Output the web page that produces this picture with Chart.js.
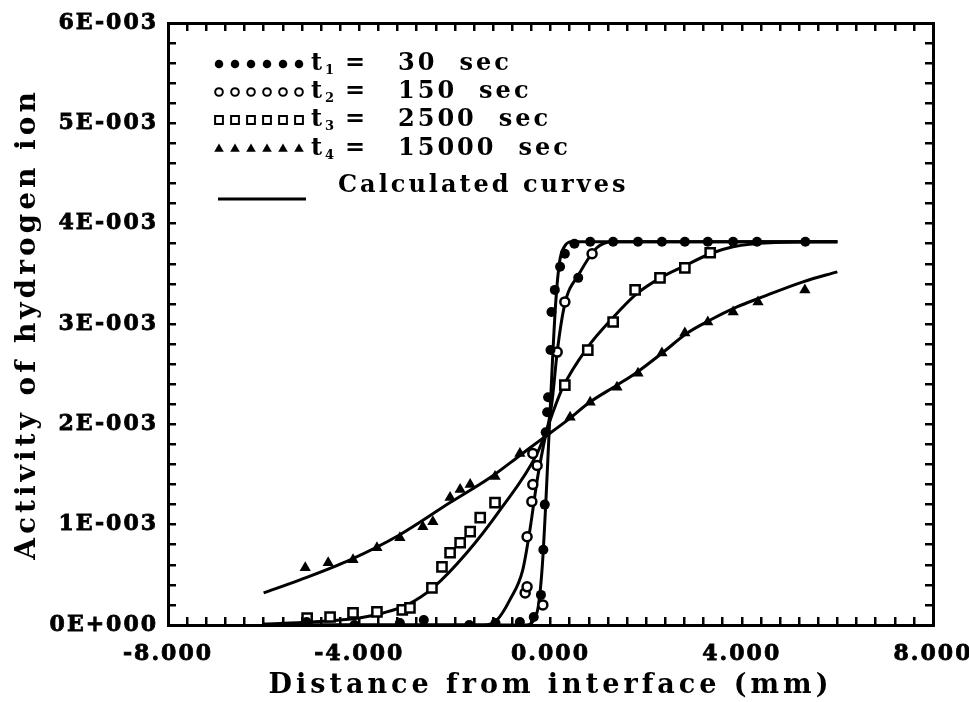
<!DOCTYPE html>
<html>
<head>
<meta charset="utf-8">
<title>Activity of hydrogen ion</title>
<script src="https://cdn.jsdelivr.net/npm/chart.js@4.4.0/dist/chart.umd.min.js"></script>
<style>
  html, body { margin: 0; padding: 0; background: #fff; }
  canvas { display: block; }
</style>
</head>
<body>
<canvas id="profileChart" width="969" height="702"></canvas>
<script>
// Activity values are given in units of 1E-003, distance in mm

// t1 = 30 sec (filled circles)
const t1X = [-5.1, -4.1, -3.15, -2.65, -1.7, -1.15, -0.64, -0.35, -0.2, -0.15, -0.12, -0.1, -0.07, -0.05, 0.0, 0.02, 0.09, 0.2, 0.3, 0.58, 0.5, 0.83, 1.31, 1.83, 2.33, 2.81, 3.29, 3.82, 4.32, 5.33];
const t1Y = [0.03, 0.0, 0.02, 0.05, 0.0, 0.02, 0.03, 0.08, 0.3, 0.75, 1.2, 1.92, 2.12, 2.27, 2.74, 3.12, 3.34, 3.57, 3.7, 3.46, 3.8, 3.82, 3.82, 3.82, 3.82, 3.82, 3.82, 3.82, 3.82, 3.82];

// t2 = 150 sec (open circles)
const t2X = [-0.53, -0.49, -0.49, -0.39, -0.37, -0.28, -0.37, -0.16, 0.14, 0.3, 0.87];
const t2Y = [0.32, 0.38, 0.88, 1.23, 1.4, 1.59, 1.71, 0.2, 2.72, 3.22, 3.7];

// t3 = 2500 sec (open squares)
const t3X = [-5.09, -4.61, -4.13, -3.63, -3.1, -2.94, -2.48, -2.27, -2.1, -1.89, -1.68, -1.47, -1.16, 0.3, 0.78, 1.31, 1.77, 2.29, 2.81, 3.34];
const t3Y = [0.07, 0.08, 0.12, 0.13, 0.15, 0.17, 0.37, 0.58, 0.72, 0.82, 0.93, 1.07, 1.22, 2.39, 2.74, 3.02, 3.34, 3.46, 3.56, 3.71];

// t4 = 15000 sec (filled triangles)
const t4X = [-5.13, -4.65, -4.13, -3.63, -3.15, -2.67, -2.46, -2.1, -1.89, -1.68, -1.16, -0.64, 0.41, 0.83, 1.39, 1.83, 2.33, 2.81, 3.29, 3.82, 4.34, 5.32];
const t4Y = [0.57, 0.62, 0.65, 0.77, 0.87, 0.98, 1.03, 1.27, 1.35, 1.4, 1.48, 1.71, 2.07, 2.22, 2.37, 2.51, 2.71, 2.91, 3.02, 3.12, 3.22, 3.34];

// calculated curves
const calc1X = [-6, -0.5, -0.35, -0.25, -0.17, -0.1, -0.03, 0.04, 0.11, 0.19, 0.29, 0.45, 6];
const calc1Y = [0, 0, 0.05, 0.2, 0.6, 1.2, 1.91, 2.62, 3.22, 3.62, 3.77, 3.82, 3.82];
const calc2X = [-6, -1.4, -1.12, -0.85, -0.58, -0.43, -0.28, -0.15, 0.0, 0.05, 0.14, 0.3, 0.6, 0.97, 1.3, 6];
const calc2Y = [0, 0, 0.05, 0.25, 0.55, 0.95, 1.44, 1.78, 2.12, 2.3, 2.72, 3.2, 3.5, 3.76, 3.82, 3.82];
const calc3X = [-6, -5, -4, -3.5, -3, -2.46, -1.75, -1.05, -0.28, 0.26, 0.78, 1.3, 1.8, 2.3, 2.81, 3.34, 3.82, 4.6, 6];
const calc3Y = [0.01, 0.03, 0.07, 0.12, 0.2, 0.37, 0.72, 1.15, 1.71, 2.37, 2.77, 3.06, 3.3, 3.46, 3.58, 3.7, 3.77, 3.81, 3.82];
const calc4X = [-6, -5.24, -4.19, -3.15, -2.1, -1.26, -0.64, -0.22, 0.35, 0.82, 1.39, 1.81, 2.36, 2.86, 3.34, 3.9, 4.38, 5.28, 6];
const calc4Y = [0.32, 0.45, 0.65, 0.9, 1.22, 1.47, 1.69, 1.84, 2.04, 2.22, 2.39, 2.52, 2.72, 2.91, 3.04, 3.17, 3.26, 3.42, 3.52];

// labelled ticks; minor ticks sit every 0.4 mm and every 0.2E-003
const xTickLabels = ['-8.000', '-4.000', '0.000', '4.000', '8.000'];
const yTickLabels = ['0E+000', '1E-003', '2E-003', '3E-003', '4E-003', '5E-003', '6E-003'];

const legendSubs = ['1', '2', '3', '4'];
const legendNumbers = ['30', '150', '2500', '15000'];
const legendUnit = 'sec';
const legendCurveLabel = 'Calculated curves';

const FONT = '"DejaVu Serif", serif';

function toPoints(xs, ys) {
    return xs.map((x, i) => ({ x: x, y: ys[i] }));
}

// marker looks, shared by the plot and the legend
const markers = [
    { pointStyle: 'circle', radius: 5, fill: '#000', borderWidth: 0 },
    { pointStyle: 'circle', radius: 4.5, fill: '#fff', borderWidth: 2.5 },
    { pointStyle: 'rect', radius: 6.5, fill: '#fff', borderWidth: 2.5 },
    { pointStyle: 'triangle', radius: 6.5, fill: '#000', borderWidth: 0 }
];

function markerSet(label, xs, ys, m) {
    return {
        label: label,
        data: toPoints(xs, ys),
        showLine: false,
        pointStyle: m.pointStyle,
        pointRadius: m.radius,
        pointBackgroundColor: m.fill,
        pointBorderColor: '#000',
        pointBorderWidth: m.borderWidth
    };
}

function curveSet(xs, ys) {
    return {
        label: 'calc',
        data: toPoints(xs, ys),
        showLine: true,
        borderColor: '#000',
        borderWidth: 3,
        pointRadius: 0,
        cubicInterpolationMode: 'monotone'
    };
}

// inward tick marks and a heavy axis line
const inwardGrid = { display: true, drawOnChartArea: false, drawTicks: true, tickLength: -8, color: '#000', lineWidth: 2.5 };
const heavyBorder = { display: true, color: '#000', width: 3 };

// legend block in the upper left corner
function drawLegend(chart) {
    const c = chart.ctx;
    c.save();
    c.textBaseline = 'middle';
    c.letterSpacing = '3px';
    const rowY = [64, 92, 120, 149];
    markers.forEach((m, r) => {
        const yy = rowY[r];
        c.fillStyle = m.fill;
        c.strokeStyle = '#000';
        c.lineWidth = 2;
        for (let k = 0; k < 6; k++) {
            Chart.helpers.drawPoint(c, {
                pointStyle: m.pointStyle,
                radius: m.radius * 0.85,
                rotation: 0,
                borderWidth: m.borderWidth ? 2 : 0
            }, 219 + k * 16, yy);
        }
        c.fillStyle = '#000';
        c.font = 'bold 24px ' + FONT;
        c.fillText('t', 311, yy);
        c.font = 'bold 13px ' + FONT;
        c.fillText(legendSubs[r], 325, yy + 7);
        c.font = 'bold 24px ' + FONT;
        c.fillText('=', 345, yy);
        c.fillText(legendNumbers[r], 398, yy);
        const numEnd = 398 + c.measureText(legendNumbers[r]).width;
        c.fillText(legendUnit, numEnd + 22, yy);
    });
    c.fillStyle = '#000';
    c.fillRect(218, 197.5, 88, 3);
    c.font = 'bold 24px ' + FONT;
    c.fillText(legendCurveLabel, 338, 186);
    c.restore();
}

// wide lettering for the axis titles, tighter for the tick labels
// (titles are drawn before the datasets, tick labels after them)
const overlay = {
    id: 'overlay',
    beforeLayout(chart) { chart.ctx.letterSpacing = '2px'; },
    beforeDraw(chart) { chart.ctx.letterSpacing = '4px'; },
    afterDatasetsDraw(chart) { chart.ctx.letterSpacing = '2px'; },
    afterDraw(chart) { drawLegend(chart); }
};

const canvasCtx = document.getElementById('profileChart').getContext('2d');

new Chart(canvasCtx, {
    type: 'scatter',
    data: {
        datasets: [
            markerSet('t1 = 30 sec', t1X, t1Y, markers[0]),
            markerSet('t2 = 150 sec', t2X, t2Y, markers[1]),
            markerSet('t3 = 2500 sec', t3X, t3Y, markers[2]),
            markerSet('t4 = 15000 sec', t4X, t4Y, markers[3]),
            curveSet(calc1X, calc1Y),
            curveSet(calc2X, calc2Y),
            curveSet(calc3X, calc3Y),
            curveSet(calc4X, calc4Y)
        ]
    },
    options: {
        responsive: false,
        animation: false,
        layout: {
            padding: { left: 0, right: 36, top: 23, bottom: 0 }
        },
        plugins: {
            legend: { display: false },
            tooltip: { enabled: false }
        },
        scales: {
            x: {
                type: 'linear',
                position: 'bottom',
                min: -8,
                max: 8,
                grid: inwardGrid,
                border: heavyBorder,
                afterFit: s => { s.height = 77; s.paddingLeft = 0; s.paddingRight = 0; },
                ticks: {
                    z: 1,
                    stepSize: 0.4,
                    autoSkip: false,
                    maxRotation: 0,
                    padding: 24,
                    color: '#000',
                    textStrokeColor: '#000',
                    textStrokeWidth: 0.8,
                    font: { family: FONT, size: 22, weight: 'bold' },
                    callback: (v, i) => (i % 10 === 0 ? xTickLabels[i / 10] : '')
                },
                title: {
                    display: true,
                    text: 'Distance from interface (mm)',
                    color: '#000',
                    padding: { top: 0, bottom: 0 },
                    font: { family: FONT, size: 27, weight: 'bold' }
                }
            },
            y: {
                type: 'linear',
                position: 'left',
                min: 0,
                max: 6,
                grid: inwardGrid,
                border: heavyBorder,
                afterFit: s => { s.width = 168; s.paddingTop = 0; s.paddingBottom = 0; },
                ticks: {
                    z: 1,
                    stepSize: 0.2,
                    autoSkip: false,
                    padding: 18,
                    color: '#000',
                    textStrokeColor: '#000',
                    textStrokeWidth: 0.8,
                    font: { family: FONT, size: 22, weight: 'bold' },
                    callback: (v, i) => (i % 5 === 0 ? yTickLabels[i / 5] : '')
                },
                title: {
                    display: true,
                    text: 'Activity of hydrogen ion',
                    color: '#000',
                    padding: { top: 11, bottom: 0 },
                    font: { family: FONT, size: 28, weight: 'bold' }
                }
            },
            x2: {
                type: 'linear',
                axis: 'x',
                position: 'top',
                min: -8,
                max: 8,
                grid: inwardGrid,
                border: heavyBorder,
                afterFit: s => { s.height = 0; s.paddingLeft = 0; s.paddingRight = 0; },
                ticks: { stepSize: 0.4, autoSkip: false, display: false }
            },
            y2: {
                type: 'linear',
                axis: 'y',
                position: 'right',
                min: 0,
                max: 6,
                grid: inwardGrid,
                border: heavyBorder,
                afterFit: s => { s.width = 0; s.paddingTop = 0; s.paddingBottom = 0; },
                ticks: { stepSize: 0.2, autoSkip: false, display: false }
            }
        }
    },
    plugins: [overlay]
});
</script>
</body>
</html>
